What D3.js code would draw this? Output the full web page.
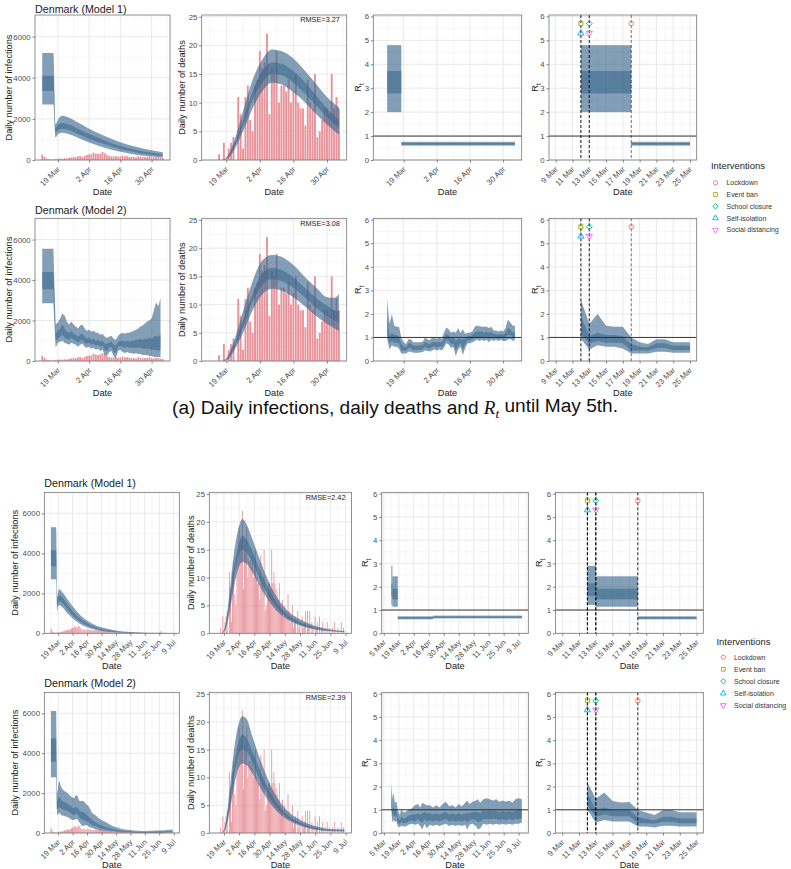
<!DOCTYPE html>
<html><head><meta charset="utf-8">
<script src="https://cdn.jsdelivr.net/npm/d3@7"></script>
<style>
body{margin:0;background:#fff}
svg{display:block}
text{font-family:"Liberation Sans",Arial,Helvetica,sans-serif}
</style>
</head><body>
<svg id="c" width="791" height="869"></svg>
<script>
// ---------------- DATA ----------------
const dataStart = "2020-03-12";
// observed daily cases (12 Mar .. 8 Jul)
const casesDaily = [
 260,160,70,40,25,30,40,60,70,60,90,70,110,130,150,140,180,190,150,200,
 250,270,280,360,310,290,320,390,330,240,190,180,180,200,150,170,220,180,190,160,150,150,120,180,170,140,140,150,180,140,
 130,150,140,120,100,100,110,90,80,70,60,80,70,60,50,60,55,50,45,60,50,40,50,45,40,35,40,30,35,40,35,
 30,35,30,25,40,30,25,20,25,30,35,25,20,30,25,20,30,35,40,30,25,35,30,40,45,110,50,35,30,25,
 20,15,25,20,15,10,20,15];
// observed daily deaths (12 Mar .. 8 Jul)
const deathsDaily = [
 0,0,0,0,1,0,3,0,2,3,4,0,11,8,2,11,13,7,5,13,
 14,19,16,17,22,8,16,15,19,10,13,13,12,14,10,12,15,10,9,9,6,14,10,9,15,4,5,7,9,9,
 8,15,9,11,9,8,7,6,9,5,4,6,3,5,4,3,7,4,2,3,5,1,2,3,0,4,1,2,0,3,1,
 2,4,0,4,1,4,0,2,1,0,3,1,2,0,3,0,1,2,0,1,0,2,0,1,0,0,1,0,2,0,
 0,1,0,0,2,0,1,0];
const topEnd = "2020-05-05";
const bottomEnd = "2020-07-08";
const rtDomainTop = ["2020-03-09","2020-05-05"];   // expanded by 5%
const rtDomainBottom = ["2020-03-03","2020-07-18"]; // as drawn

// model bands: [date, outer low, inner low, inner high, outer high]
const infTopM1 = [
 ["2020-03-12",2700,3350,4100,5200],["2020-03-17",2700,3350,4100,5200],
 ["2020-03-18",1100,1350,1550,1750],["2020-03-19",1250,1450,1700,1950],
 ["2020-03-20",1300,1500,1780,2100],["2020-03-21",1320,1520,1800,2150],
 ["2020-03-24",1250,1450,1720,2050],["2020-03-28",1080,1260,1520,1820],
 ["2020-04-02",850,1030,1260,1520],["2020-04-09",600,760,950,1170],
 ["2020-04-16",400,530,680,860],["2020-04-23",260,370,490,640],
 ["2020-04-30",170,250,350,470],["2020-05-05",120,190,270,380]];
// daily from 12 Mar
const infTopM2 = [
 [2850,3550,4400,5550],[2850,3550,4400,5550],[2850,3550,4400,5550],[2850,3550,4400,5550],[2850,3550,4400,5550],[2850,3550,4400,5550],
 [650,1000,1350,1800],[900,1100,1500,1900],[950,1200,1600,2100],[1000,1300,1800,2350],[900,1150,1600,2250],[850,1100,1450,1950],
 [800,1050,1400,1800],[900,1150,1500,1950],[850,1050,1350,1800],[800,1000,1300,1700],[700,900,1200,1600],[800,1000,1300,1750],
 [850,1050,1350,1800],[700,900,1200,1600],
 [650,850,1100,1500],[700,900,1150,1550],[600,800,1050,1450],[650,850,1100,1500],[550,750,1000,1400],[600,800,1050,1400],
 [500,700,950,1300],[550,750,1000,1350],[300,550,850,1200],[250,500,850,1150],[450,650,900,1200],[500,700,950,1250],
 [250,450,800,1100],[150,400,750,1050],[500,700,950,1250],[550,750,1000,1350],[450,700,1000,1400],[400,650,950,1350],
 [450,700,1000,1400],[400,650,950,1400],[400,650,1000,1450],[350,650,1000,1500],[400,650,1050,1550],[350,650,1050,1600],
 [350,650,1100,1700],[300,600,1050,1750],[300,600,1100,1850],[300,600,1100,1950],[250,600,1150,2000],
 [250,550,1100,2100],[200,550,1200,2500],[200,550,1250,2900],[200,500,1200,2700],[200,550,1300,3100]];
const deathTopM1 = [
 ["2020-03-17",0,0,0,0],["2020-03-19",0.1,0.2,0.3,0.4],["2020-03-22",1.5,2,2.5,3],
 ["2020-03-26",5,6,7,8.5],["2020-03-30",9,10.5,12,14],["2020-04-03",12,13.5,15.5,17.5],
 ["2020-04-07",13.5,15,17,19.3],["2020-04-11",13.2,14.8,16.8,19],["2020-04-16",11.8,13.5,15.5,17.7],
 ["2020-04-21",10,11.5,13.5,15.5],["2020-04-26",7.8,9.3,11,13],["2020-04-30",6.2,7.5,9,11],
 ["2020-05-05",4.4,5.6,7,9.2]];
const deathTopM2 = [
 ["2020-03-17",0,0,0,0],["2020-03-19",0.1,0.2,0.3,0.5],["2020-03-22",1.6,2.1,2.7,3.3],
 ["2020-03-26",5,6,7.3,8.8],["2020-03-30",9,10.5,12,14.2],["2020-04-03",11.8,13.5,15.5,17.8],
 ["2020-04-07",12.8,14.5,16.5,18.8],["2020-04-11",12.5,14.2,16.2,18.5],["2020-04-16",11.3,13,14.8,17],
 ["2020-04-21",9.6,11.2,12.9,14.8],["2020-04-26",7.8,9.2,11,12.8],["2020-04-30",6.6,8,9.8,11.3],
 ["2020-05-03",5.8,7.2,9,11.2],["2020-05-05",5.3,6.8,8.8,11.9]];
// R_t model 1: piecewise constant [start, end, outer low, inner low, inner high, outer high]
const rtTopM1 = [
 ["2020-03-12","2020-03-18",2.0,2.78,3.72,4.8],
 ["2020-03-18","2020-05-05",0.6,0.64,0.71,0.76]];
// R_t model 2 daily from 12 Mar
const rtTopM2 = [
 [0.95,1.15,1.9,2.6],[0.49,0.75,1.05,1.58],[0.67,0.85,1.2,2.0],[0.6,0.78,1.1,1.5],[0.6,0.78,1.1,1.45],
 [0.53,0.75,1.05,1.45],[0.32,0.45,0.72,1.0],[0.32,0.45,0.6,0.8],[0.32,0.45,0.58,0.72],[0.39,0.55,0.75,0.92],
 [0.39,0.55,0.75,0.92],[0.35,0.47,0.65,0.8],[0.35,0.47,0.65,0.8],[0.35,0.47,0.65,0.8],[0.36,0.48,0.66,0.8],
 [0.38,0.5,0.68,0.82],[0.45,0.6,0.8,1.0],[0.42,0.55,0.75,0.92],[0.4,0.52,0.72,0.88],[0.45,0.6,0.8,1.0],
 [0.5,0.62,0.82,0.98],[0.45,0.58,0.78,0.95],[0.5,0.62,0.82,1.0],[0.45,0.6,0.78,0.95],[0.55,0.7,0.95,1.2],
 [0.75,0.9,1.15,1.42],[0.7,0.85,1.1,1.35],[0.55,0.7,0.95,1.2],[0.6,0.75,1.0,1.25],[0.2,0.45,0.85,1.2],
 [0.5,0.65,0.95,1.4],[0.6,0.75,0.95,1.2],[0.25,0.5,0.9,1.35],[0.55,0.72,0.95,1.15],[0.75,0.88,1.05,1.2],
 [0.75,0.88,1.05,1.2],[0.8,0.92,1.1,1.25],[0.85,0.98,1.2,1.45],[0.9,1.0,1.25,1.5],[0.85,1.0,1.25,1.48],
 [0.9,1.02,1.25,1.45],[0.85,1.0,1.2,1.45],[0.9,1.05,1.25,1.45],[0.8,0.95,1.2,1.4],[0.9,1.05,1.25,1.45],
 [0.85,0.98,1.15,1.3],[0.9,1.0,1.15,1.3],[0.85,0.95,1.12,1.25],[0.9,1.0,1.15,1.3],[0.85,0.95,1.1,1.25],
 [0.85,1.0,1.2,1.4],[0.9,1.1,1.4,1.75],[0.95,1.1,1.35,1.65],[0.85,1.0,1.2,1.5],[0.9,1.0,1.25,1.5]];

const infBotM1 = [
 ["2020-03-12",2700,3350,4150,5300],["2020-03-17",2700,3350,4150,5300],
 ["2020-03-18",1100,1350,1600,1800],["2020-03-19",1350,1550,1850,2100],["2020-03-20",1400,1600,1900,2200],
 ["2020-03-23",1300,1500,1800,2050],["2020-03-28",1000,1200,1450,1700],["2020-04-02",750,900,1100,1350],
 ["2020-04-09",480,600,750,930],["2020-04-16",300,390,500,640],["2020-04-23",190,250,330,430],
 ["2020-04-30",120,160,220,300],["2020-05-14",45,65,95,140],["2020-05-28",18,28,42,65],
 ["2020-06-11",7,12,19,30],["2020-06-25",3,5,9,15],["2020-07-08",1,2,4,8]];
const infBotM2 = [
 ["2020-03-12",2790,3570,4730,6110],["2020-03-17",2790,3570,4730,6110],
 ["2020-03-18",900,1200,1600,2000],["2020-03-20",1000,1300,1800,2600],["2020-03-22",900,1200,1650,2300],
 ["2020-03-25",850,1150,1550,2100],["2020-03-28",800,1100,1450,2000],["2020-03-31",700,1000,1350,1850],
 ["2020-04-03",650,900,1250,1750],["2020-04-06",700,950,1300,1900],["2020-04-09",500,750,1100,1600],
 ["2020-04-12",350,650,1050,1600],["2020-04-15",400,600,950,1450],["2020-04-18",300,500,800,1300],
 ["2020-04-21",250,400,650,1000],["2020-04-24",200,350,550,900],["2020-04-27",150,280,450,750],
 ["2020-04-30",120,220,380,650],["2020-05-04",100,180,300,550],["2020-05-08",80,140,240,420],
 ["2020-05-12",60,110,190,330],["2020-05-16",40,80,140,260],["2020-05-20",30,60,110,200],
 ["2020-05-25",20,45,85,160],["2020-05-31",15,35,65,130],["2020-06-06",10,25,50,110],
 ["2020-06-12",10,25,50,100],["2020-06-18",10,25,55,110],["2020-06-24",15,30,60,120],
 ["2020-06-30",15,35,70,140],["2020-07-05",20,40,80,160],["2020-07-08",20,40,90,180]];
const deathBotM1 = [
 ["2020-03-17",0,0,0,0],["2020-03-20",0.5,0.7,0.9,1.2],["2020-03-24",3.5,4.5,5.5,7],
 ["2020-03-28",8,9.5,11.5,14],["2020-04-01",11.5,13.5,15.5,18.5],["2020-04-05",12.8,15,17.5,20.5],
 ["2020-04-09",12.5,14.5,16.8,19.5],["2020-04-14",11,12.8,14.8,17],["2020-04-20",8.8,10.2,11.8,13.8],
 ["2020-04-27",6.5,7.5,8.8,10.3],["2020-05-04",4.6,5.3,6.3,7.4],["2020-05-14",2.8,3.2,3.8,4.6],
 ["2020-05-28",1.4,1.6,2,2.5],["2020-06-11",0.7,0.85,1.05,1.3],["2020-06-25",0.35,0.45,0.55,0.7],
 ["2020-07-08",0.2,0.25,0.3,0.4]];
const deathBotM2 = [
 ["2020-03-17",0,0,0,0],["2020-03-20",0.5,0.7,0.9,1.2],["2020-03-24",3.5,4.5,5.6,7.2],
 ["2020-03-28",8,9.8,12,14.5],["2020-04-01",11.5,13.8,16,19.2],["2020-04-05",12.5,15,17.7,21],
 ["2020-04-09",12.2,14.6,17,20.5],["2020-04-14",10.8,12.8,14.8,17.5],["2020-04-20",8.6,10,11.8,14],
 ["2020-04-27",6.4,7.4,8.7,10.4],["2020-05-04",4.5,5.2,6.2,7.4],["2020-05-14",2.7,3.1,3.7,4.5],
 ["2020-05-28",1.3,1.55,1.9,2.4],["2020-06-11",0.6,0.75,0.95,1.25],["2020-06-25",0.3,0.4,0.5,0.7],
 ["2020-07-08",0.25,0.35,0.45,0.65]];
const rtBotM1 = [
 ["2020-03-12","2020-03-13",1.22,1.6,2.15,2.9],
 ["2020-03-13","2020-03-18",1.14,1.46,1.92,2.45],
 ["2020-03-18","2020-04-20",0.6,0.63,0.69,0.73],
 ["2020-04-20","2020-07-12",0.64,0.67,0.72,0.76]];
const rtBotM2 = [
 ["2020-03-12",0.99,1.2,1.7,2.19],["2020-03-13",0.45,0.7,1.0,1.48],["2020-03-14",0.56,0.8,1.1,1.74],
 ["2020-03-15",0.49,0.72,1.0,1.38],["2020-03-16",0.49,0.72,0.98,1.31],["2020-03-17",0.49,0.72,0.98,1.34],
 ["2020-03-18",0.28,0.42,0.68,0.99],["2020-03-19",0.28,0.42,0.6,0.88],["2020-03-20",0.24,0.4,0.55,0.78],
 ["2020-03-21",0.31,0.48,0.7,0.99],["2020-03-22",0.31,0.48,0.7,0.99],["2020-03-23",0.28,0.42,0.62,0.89],
 ["2020-03-24",0.28,0.42,0.62,0.89],["2020-03-25",0.28,0.42,0.62,0.89],["2020-03-28",0.35,0.5,0.75,1.0],
 ["2020-03-31",0.4,0.55,0.8,1.05],["2020-04-03",0.35,0.5,0.8,1.2],["2020-04-06",0.4,0.6,0.85,1.25],
 ["2020-04-08",0.3,0.5,0.8,1.1],["2020-04-10",0.15,0.45,0.85,1.3],["2020-04-12",0.4,0.6,0.9,1.25],
 ["2020-04-14",0.2,0.5,0.85,1.2],["2020-04-17",0.35,0.55,0.85,1.2],["2020-04-20",0.3,0.5,0.8,1.1],
 ["2020-04-23",0.35,0.55,0.85,1.2],["2020-04-26",0.3,0.5,0.8,1.1],["2020-04-29",0.35,0.55,0.85,1.25],
 ["2020-05-02",0.4,0.6,0.9,1.35],["2020-05-05",0.3,0.5,0.8,1.15],["2020-05-08",0.35,0.55,0.85,1.2],
 ["2020-05-11",0.3,0.5,0.8,1.1],["2020-05-14",0.35,0.55,0.85,1.25],["2020-05-17",0.3,0.5,0.8,1.15],
 ["2020-05-20",0.35,0.55,0.85,1.3],["2020-05-22",0.15,0.45,0.85,1.4],["2020-05-24",0.35,0.55,0.85,1.25],
 ["2020-05-27",0.4,0.6,0.9,1.35],["2020-05-30",0.3,0.55,0.9,1.4],["2020-06-01",0.15,0.45,0.9,1.45],
 ["2020-06-03",0.2,0.5,0.85,1.3],["2020-06-06",0.4,0.6,0.95,1.45],["2020-06-09",0.35,0.6,0.95,1.5],
 ["2020-06-12",0.4,0.6,0.95,1.45],["2020-06-15",0.35,0.6,0.95,1.4],["2020-06-18",0.4,0.6,0.95,1.45],
 ["2020-06-21",0.35,0.55,0.9,1.35],["2020-06-24",0.4,0.6,0.95,1.4],["2020-06-27",0.35,0.55,0.9,1.35],
 ["2020-06-30",0.4,0.6,0.95,1.4],["2020-07-03",0.35,0.55,0.9,1.3],["2020-07-06",0.4,0.6,0.95,1.45],
 ["2020-07-09",0.4,0.6,1.0,1.5],["2020-07-12",0.45,0.65,1.0,1.45]];

const rmseLabels = ["RMSE=3.27","RMSE=3.08","RMSE=2.42","RMSE=2.39"];
const panelTitles = ["Denmark (Model 1)","Denmark (Model 2)"];
const interventionNames = ["Lockdown","Event ban","School closure","Self-isolation","Social distancing"];
const interventionDates = ["2020-03-18","2020-03-12","2020-03-13","2020-03-12","2020-03-13"];
const interventionLevel = [5.7,5.7,5.7,5.3,5.3];
const interventionColors = ["#F8766D","#A3A500","#00BF7D","#00B0F6","#E76BF3"];
const interventionShapes = ["circle","square","diamond","triangle","triangleDown"];
const infTicks = [0,2000,4000,6000];
const deathTicks = [0,5,10,15,20,25];
const rtTicks = [0,1,2,3,4,5,6];
const dateTicksTop = ["2020-03-19","2020-04-02","2020-04-16","2020-04-30"];
const dateTicksBot = ["2020-03-19","2020-04-02","2020-04-16","2020-04-30","2020-05-14","2020-05-28","2020-06-11","2020-06-25","2020-07-09"];
const dateTicksBotRt = ["2020-03-05","2020-03-19","2020-04-02","2020-04-16","2020-04-30","2020-05-14","2020-05-28","2020-06-11","2020-06-25","2020-07-09"];
const dateTicksZoom = ["2020-03-09","2020-03-11","2020-03-13","2020-03-15","2020-03-17","2020-03-19","2020-03-21","2020-03-23","2020-03-25"];

// ---------------- HELPERS ----------------
const DAY = 864e5;
const parse = d3.utcParse("%Y-%m-%d");
const fmt = d3.utcFormat("%-d %b");
const svg = d3.select("#c");
const START = parse(dataStart);
const plusDays = (d, n) => new Date(d.getTime() + n * DAY);
const BAND = "#36648b";
const BAR = "#e8939a";
let clipId = 0;

function measure(str, size) {
  const t = svg.append("text").style("font-size", size + "px").text(str);
  const w = t.node().getComputedTextLength(); t.remove(); return w;
}
// reference title "Denmark (Model 1)" is ~91.7px wide
const K = 91.7 / measure("Denmark (Model 1)", 10);
const FS = {title: 10 * K, axisTitle: 8.6 * K, tick: 7.3 * K, rmse: 6.85 * K, leg: 6.5 * K, legTitle: 8.8 * K};

const toBand = rows => rows.map(r => ({date: parse(r[0]), lo: r[1], ilo: r[2], ihi: r[3], hi: r[4]}));
const dailyBand = rows => rows.map((r, i) => ({date: plusDays(START, i), lo: r[0], ilo: r[1], ihi: r[2], hi: r[3]}));
const dailyBars = (vals, end) => vals.map((v, i) => ({date: plusDays(START, i), v})).filter(d => d.date <= parse(end));
const toSeg = rows => rows.map(r => ({s: parse(r[0]), e: parse(r[1]), lo: r[2], ilo: r[3], ihi: r[4], hi: r[5]}));

function expand(a, b, f = 0.05) { const w = b - a; return [new Date(a - w * f), new Date(+b + w * f)]; }

function minorOf(major, dom, isDate) {
  const out = [];
  const v = major.map(d => +d);
  for (let i = 0; i < v.length - 1; i++) out.push((v[i] + v[i + 1]) / 2);
  if (v.length > 1) { const st = v[1] - v[0]; out.push(v[0] - st / 2); out.push(v[v.length - 1] + st / 2); }
  const lo = +dom[0], hi = +dom[1];
  return out.filter(x => x >= lo && x <= hi).map(x => isDate ? new Date(x) : x);
}

function panel(rect, xDom, yDom, xTicks, yTicks) {
  const [x0, x1] = rect.x, [y0, y1] = rect.y;
  const x = d3.scaleUtc().domain(xDom).range([x0, x1]);
  const y = d3.scaleLinear().domain(yDom).range([y1, y0]);
  const g = svg.append("g");
  g.append("rect").attr("x", x0).attr("y", y0).attr("width", x1 - x0).attr("height", y1 - y0).attr("fill", "#fff");
  const grid = g.append("g");
  minorOf(xTicks, xDom, true).forEach(t => grid.append("line").attr("x1", x(t)).attr("x2", x(t)).attr("y1", y0).attr("y2", y1).attr("stroke", "#eeeeee").attr("stroke-width", 0.45));
  minorOf(yTicks, yDom, false).forEach(t => grid.append("line").attr("x1", x0).attr("x2", x1).attr("y1", y(t)).attr("y2", y(t)).attr("stroke", "#eeeeee").attr("stroke-width", 0.45));
  xTicks.filter(t => t >= xDom[0] && t <= xDom[1]).forEach(t => grid.append("line").attr("x1", x(t)).attr("x2", x(t)).attr("y1", y0).attr("y2", y1).attr("stroke", "#e2e2e2").attr("stroke-width", 0.75));
  yTicks.forEach(t => grid.append("line").attr("x1", x0).attr("x2", x1).attr("y1", y(t)).attr("y2", y(t)).attr("stroke", "#e2e2e2").attr("stroke-width", 0.75));
  const id = "clip" + (clipId++);
  svg.append("clipPath").attr("id", id).append("rect").attr("x", x0).attr("y", y0).attr("width", x1 - x0).attr("height", y1 - y0);
  const data = g.append("g").attr("clip-path", `url(#${id})`);
  const over = g.append("g");
  const ax = g.append("g").attr("transform", `translate(0,${y1})`)
    .call(d3.axisBottom(x).tickValues(xTicks).tickFormat(fmt).tickSize(2.5).tickSizeOuter(0));
  ax.select(".domain").remove();
  ax.selectAll("line").attr("stroke", "#333").attr("stroke-width", 0.6);
  ax.selectAll("text").attr("y", 0).attr("dy", 0).attr("transform", "translate(2.2,9.6) rotate(-45)")
    .style("text-anchor", "end").attr("fill", "#4d4d4d").style("font-size", FS.tick + "px");
  const ay = g.append("g").attr("transform", `translate(${x0},0)`)
    .call(d3.axisLeft(y).tickValues(yTicks).tickFormat(d3.format("d")).tickSize(2.5).tickPadding(1.8).tickSizeOuter(0));
  ay.select(".domain").remove();
  ay.selectAll("line").attr("stroke", "#333").attr("stroke-width", 0.6);
  ay.selectAll("text").attr("fill", "#4d4d4d").style("font-size", FS.tick + "px");
  g.append("rect").attr("x", x0).attr("y", y0).attr("width", x1 - x0).attr("height", y1 - y0)
    .attr("fill", "none").attr("stroke", "#6e6e6e").attr("stroke-width", 0.75);
  return {x, y, data, over, rect};
}

function drawBars(p, bars) {
  p.data.selectAll(null).data(bars.filter(d => d.v > 0)).join("rect")
    .attr("x", d => p.x(plusDays(d.date, -0.4))).attr("width", d => p.x(plusDays(d.date, 0.4)) - p.x(plusDays(d.date, -0.4)))
    .attr("y", d => p.y(d.v)).attr("height", d => p.y(0) - p.y(d.v)).attr("fill", BAR);
}
function drawBands(p, band, curve) {
  const outer = d3.area().x(d => p.x(d.date)).y0(d => p.y(d.lo)).y1(d => p.y(d.hi)).curve(curve);
  const inner = d3.area().x(d => p.x(d.date)).y0(d => p.y(d.ilo)).y1(d => p.y(d.ihi)).curve(curve);
  p.data.append("path").datum(band).attr("d", outer).attr("fill", BAND).attr("fill-opacity", 0.62);
  p.data.append("path").datum(band).attr("d", inner).attr("fill", BAND).attr("fill-opacity", 0.55);
}
function drawSegs(p, segs) {
  segs.forEach(s => {
    p.data.append("rect").attr("x", p.x(s.s)).attr("width", p.x(s.e) - p.x(s.s))
      .attr("y", p.y(s.hi)).attr("height", p.y(s.lo) - p.y(s.hi)).attr("fill", BAND).attr("fill-opacity", 0.62);
    p.data.append("rect").attr("x", p.x(s.s)).attr("width", p.x(s.e) - p.x(s.s))
      .attr("y", p.y(s.ihi)).attr("height", p.y(s.ilo) - p.y(s.ihi)).attr("fill", BAND).attr("fill-opacity", 0.55);
  });
}
function oneLine(p) {
  const [x0, x1] = p.rect.x;
  p.over.append("line").attr("x1", x0).attr("x2", x1).attr("y1", p.y(1)).attr("y2", p.y(1)).attr("stroke", "#222").attr("stroke-width", 0.9);
}
function symbolPath(shape, s) {
  const map = {circle: d3.symbolCircle, square: d3.symbolSquare, diamond: d3.symbolSquare, triangle: d3.symbolTriangle, triangleDown: d3.symbolTriangle};
  return d3.symbol().type(map[shape]).size(s)();
}
function symbolRot(shape) { return shape === "diamond" ? 45 : shape === "triangleDown" ? 180 : 0; }
function interventions(p, lineOpacity) {
  const [y0, y1] = p.rect.y;
  interventionDates.forEach((d, i) => {
    p.over.append("line").attr("x1", p.x(parse(d))).attr("x2", p.x(parse(d))).attr("y1", y0).attr("y2", y1)
      .attr("stroke", "#000").attr("stroke-opacity", lineOpacity).attr("stroke-width", 0.9).attr("stroke-dasharray", "3,2");
  });
  interventionDates.forEach((d, i) => {
    p.over.append("path").attr("d", symbolPath(interventionShapes[i], 17))
      .attr("transform", `translate(${p.x(parse(d))},${p.y(interventionLevel[i])}) rotate(${symbolRot(interventionShapes[i])})`)
      .attr("fill", "none").attr("stroke", interventionColors[i]).attr("stroke-width", 0.9);
  });
}
function yTitle(x, yc, label, isR) {
  const t = svg.append("text").attr("transform", `translate(${x},${yc}) rotate(-90)`).attr("text-anchor", "middle")
    .attr("dy", "0.35em").style("font-size", FS.axisTitle + "px").attr("fill", "#1a1a1a");
  if (isR) { t.append("tspan").text("R"); t.append("tspan").attr("dy", "0.45em").style("font-size", (FS.axisTitle * 0.72) + "px").text("t"); }
  else t.text(label);
}
function legend(xT, yT, x0, y0, step, xText) {
  svg.append("text").attr("x", xT).attr("y", yT).style("font-size", FS.legTitle + "px").attr("fill", "#1a1a1a").text("Interventions");
  interventionNames.forEach((n, i) => {
    svg.append("path").attr("d", symbolPath(interventionShapes[i], 14))
      .attr("transform", `translate(${x0},${y0 + i * step}) rotate(${symbolRot(interventionShapes[i])})`)
      .attr("fill", "none").attr("stroke", interventionColors[i]).attr("stroke-width", 0.9);
    svg.append("text").attr("x", xText).attr("y", y0 + i * step).attr("dy", "0.35em").style("font-size", FS.leg + "px")
      .attr("fill", "#333").text(n);
  });
}

// ---------------- LAYOUT ----------------
const sections = [
  {rows: [[15, 160], [218.3, 361]], cols: [[35, 170], [201.7, 346.7], [373.3, 521.7], [549, 696.7]],
   ytx: [9, 181.7, 357.5, 535], titleY: [12.8, 213.8], titleX: 35, dateY: [195.2, 396.2],
   end: topEnd, ticks: dateTicksTop, rtTicks: dateTicksTop,
   rtDom: expand(parse(rtDomainTop[0]), parse(rtDomainTop[1])),
   inf: [toBand(infTopM1), dailyBand(infTopM2)], death: [toBand(deathTopM1), toBand(deathTopM2)],
   rt: [toSeg(rtTopM1), dailyBand(rtTopM2)], rmse: [rmseLabels[0], rmseLabels[1]], lineOp: 0.6,
   legend: [711, 169, 715.5, 182.7, 11.8, 726.5]},
  {rows: [[492.3, 633.3], [692.3, 833]], cols: [[44.3, 179.3], [209.3, 351.5], [381.7, 528.3], [555.5, 703.3]],
   ytx: [15, 190.7, 365, 538.3], titleY: [487, 687], titleX: 44.3, dateY: [668.5, 868.2],
   end: bottomEnd, ticks: dateTicksBot, rtTicks: dateTicksBotRt,
   rtDom: rtDomainBottom.map(parse),
   inf: [toBand(infBotM1), toBand(infBotM2)], death: [toBand(deathBotM1), toBand(deathBotM2)],
   rt: [toSeg(rtBotM1), toBand(rtBotM2)], rmse: [rmseLabels[2], rmseLabels[3]], lineOp: 0.95,
   legend: [716.5, 645.3, 723.3, 657.3, 12, 734]}
];

sections.forEach(sec => {
  const endD = parse(sec.end);
  const barDom = expand(plusDays(START, -0.5), plusDays(endD, 0.5));
  const zoomDom = expand(parse(dateTicksZoom[0]), parse(dateTicksZoom[dateTicksZoom.length - 1]));
  const ticks = sec.ticks.map(parse), rtT = sec.rtTicks.map(parse), zT = dateTicksZoom.map(parse);
  sec.rows.forEach((yr, r) => {
    const mid = (yr[0] + yr[1]) / 2;
    const p1 = panel({x: sec.cols[0], y: yr}, barDom, [0, 7050], ticks, infTicks);
    drawBars(p1, dailyBars(casesDaily, sec.end));
    drawBands(p1, sec.inf[r], (r === 1 && sec === sections[0]) ? d3.curveLinear : d3.curveMonotoneX);
    const p2 = panel({x: sec.cols[1], y: yr}, barDom, [0, 25.3], ticks, deathTicks);
    drawBars(p2, dailyBars(deathsDaily, sec.end));
    drawBands(p2, sec.death[r], d3.curveMonotoneX);
    p2.over.append("text").attr("x", p2.x(endD) + 1).attr("y", yr[0] + 7.3).attr("text-anchor", "end")
      .style("font-size", FS.rmse + "px").attr("fill", "#1a1a1a").text(sec.rmse[r]);
    const p3 = panel({x: sec.cols[2], y: yr}, sec.rtDom, [0, 6.06], rtT, rtTicks);
    const p4 = panel({x: sec.cols[3], y: yr}, zoomDom, [0, 6.06], zT, rtTicks);
    const zEnd = parse(dateTicksZoom[dateTicksZoom.length - 1]);
    if (r === 0) {
      drawSegs(p3, sec.rt[0]);
      drawSegs(p4, sec.rt[0].filter(s => s.s < zEnd).map(s => ({...s, e: s.e > zEnd ? zEnd : s.e})));
    } else {
      drawBands(p3, sec.rt[1], d3.curveLinear);
      drawBands(p4, sec.rt[1].filter(d => d.date <= zEnd), d3.curveLinear);
    }
    oneLine(p3); oneLine(p4);
    interventions(p4, sec.lineOp);
    svg.append("text").attr("x", sec.titleX).attr("y", sec.titleY[r]).style("font-size", FS.title + "px").attr("fill", "#1a1a1a").text(panelTitles[r]);
    yTitle(sec.ytx[0], mid, "Daily number of infections");
    yTitle(sec.ytx[1], mid, "Daily number of deaths");
    yTitle(sec.ytx[2], mid, "", true);
    yTitle(sec.ytx[3], mid, "", true);
    sec.cols.forEach(c => svg.append("text").attr("x", (c[0] + c[1]) / 2).attr("y", sec.dateY[r]).attr("text-anchor", "middle")
      .style("font-size", FS.axisTitle + "px").attr("fill", "#1a1a1a").text("Date"));
  });
  legend(...sec.legend);
});

// caption, fitted to the reference width (~446px)
const cap = svg.append("text").attr("x", 395).attr("y", 413.5).attr("text-anchor", "middle").attr("fill", "#111");
cap.append("tspan").text("(a) Daily infections, daily deaths and ");
cap.append("tspan").style("font-family", "'Liberation Serif','DejaVu Serif',serif").style("font-style", "italic").text("R");
cap.append("tspan").attr("dy", "0.3em").style("font-size", "0.7em").style("font-family", "'Liberation Serif','DejaVu Serif',serif").style("font-style", "italic").text("t");
cap.append("tspan").attr("dy", "-0.3em").text(" until May 5th.");
cap.style("font-size", "15px");
const cw = cap.node().getComputedTextLength();
cap.style("font-size", (15 * 446 / cw) + "px");
</script>
</body></html>
